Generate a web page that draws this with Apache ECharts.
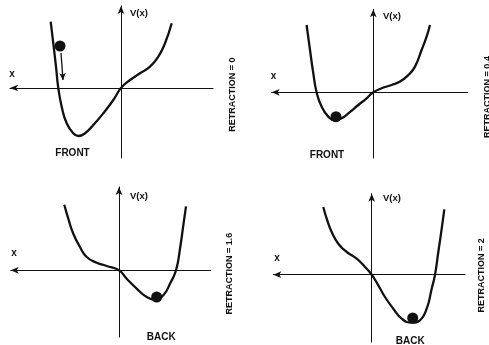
<!DOCTYPE html>
<html>
<head>
<meta charset="utf-8">
<script src="https://cdn.jsdelivr.net/npm/echarts@6/dist/echarts.min.js"></script>
<style>
html,body{margin:0;padding:0;background:#fff;}
#c{width:489px;height:345px;}
</style>
</head>
<body>
<div id="c"></div>
<script>
// Potential curves V(x) for four retraction values (arbitrary units)
const retractions = ['0', '0.4', '1.6', '2'];
const sides = ['FRONT', 'FRONT', 'BACK', 'BACK'];

const curve0 = [[-7.03,6.63],[-6.77,4.47],[-6.5,2.13],[-6.27,0],[-5.93,-1.87],[-5.43,-3.53],[-4.77,-4.53],[-4.27,-4.8],[-3.6,-4.53],[-2.77,-3.7],[-1.77,-2.53],[-0.77,-1.2],[0,0],[0.9,0.8],[1.9,1.47],[2.9,2.13],[3.73,3.13],[4.4,4.47],[5.07,6.47]];
const curve04 = [[-6.67,6.73],[-6.33,4.23],[-6.0,1.9],[-5.67,0],[-5.17,-1.43],[-4.5,-2.43],[-3.83,-2.83],[-3.17,-2.6],[-2.5,-2.1],[-1.5,-1.27],[-0.67,-0.6],[0,0],[0.83,0.4],[1.83,0.73],[2.67,1.07],[3.5,1.73],[4.17,2.57],[4.83,4.23],[5.33,5.57],[5.67,6.73]];
const curve16 = [[-5.47,6.56],[-5.07,5.16],[-4.57,3.66],[-3.9,2.33],[-3.23,1.33],[-2.23,0.76],[-1.23,0.43],[0,0],[0.77,-0.84],[1.77,-1.84],[2.77,-2.67],[3.6,-2.94],[4.43,-2.5],[5.1,-1.34],[5.7,0],[6.1,2.16],[6.43,4.5],[6.7,6.4]];
const curve2 = [[-4.84,6.77],[-4.5,5.6],[-4.0,4.27],[-3.34,3.1],[-2.5,2.27],[-1.5,1.6],[-0.67,0.77],[0,0],[0.66,-1.06],[1.33,-2.23],[2.16,-3.4],[3.0,-4.4],[4.0,-4.8],[4.83,-4.56],[5.5,-3.4],[6.0,-1.4],[6.33,0],[6.66,2.27],[7.0,4.6],[7.26,6.54]];
const curves = [curve0, curve04, curve16, curve2];

// Ball positions on each curve
const balls = [[-6.1,4.2],[-3.73,-2.44],[3.77,-2.67],[4.1,-4.33]];
// Motion arrow in first panel (start, end)
const motionArrow = [[-6.0,3.5],[-5.8,0.8]];

// Axis extents
const xMins = [-11.1,-10.16,-10.83,-9.84];
const xMaxs = [9.2,9.44,9.17,9.33];
const yMins = [-7.0,-6.57,-6.67,-6.73];
const yMaxs = [8.2,8.3,8.33,8.1];

const gridBoxes = [
  {left:10, top:6, width:203, height:152},
  {left:271.7, top:9.3, width:196, height:148.7},
  {left:10.7, top:187, width:200, height:150},
  {left:273.3, top:193.7, width:191.7, height:148.3}
];

const ink = '#111111';

const grids = [], xAxes = [], yAxes = [], series = [];
for (let i = 0; i < 4; i++) {
  grids.push(Object.assign({containLabel:false}, gridBoxes[i]));
  xAxes.push({type:'value', gridIndex:i, min:xMins[i], max:xMaxs[i],
    axisLine:{show:true,onZero:true,symbol:['arrow','none'],symbolSize:[5,8],lineStyle:{color:ink,width:1}},
    axisTick:{show:false}, axisLabel:{show:false}, splitLine:{show:false}});
  yAxes.push({type:'value', gridIndex:i, min:yMins[i], max:yMaxs[i],
    axisLine:{show:true,onZero:true,symbol:['none','arrow'],symbolSize:[5,8],lineStyle:{color:ink,width:1}},
    axisTick:{show:false}, axisLabel:{show:false}, splitLine:{show:false}});
  series.push({type:'line', xAxisIndex:i, yAxisIndex:i, data:curves[i], smooth:0.5,
    showSymbol:false, lineStyle:{color:ink,width:2.3}, silent:true, z:3});
  series.push({type:'scatter', xAxisIndex:i, yAxisIndex:i, data:[balls[i]], symbolSize:11,
    itemStyle:{color:ink, opacity:1}, silent:true, z:4});
}
series.push({type:'line', xAxisIndex:0, yAxisIndex:0, data:[], silent:true,
  markLine:{silent:true, symbol:['none','arrow'], symbolSize:[5,7], label:{show:false},
    lineStyle:{color:ink,width:1.3,type:'solid'},
    data:[[{coord:motionArrow[0]},{coord:motionArrow[1]}]]}});

const font = 'bold 10px "Liberation Sans", Arial, sans-serif';
const vFont = 'bold 9.5px "Liberation Sans", Arial, sans-serif';
const rFont = 'bold 9px "Liberation Sans", Arial, sans-serif';
const vPos = [[130,13.5],[383,16.5],[130,196],[383,198.5]];
const xPos = [[12,74.5],[273.5,76],[14,253.7],[277,258]];
const sidePos = [[72.5,153.7],[327,155.5],[161.3,337.5],[410.3,341.5]];
const rPos = [[233,94.5],[488,97],[230,273.7],[482,275.3]];
const graphics = [];
for (let i = 0; i < 4; i++) {
  graphics.push({type:'text', x:vPos[i][0], y:vPos[i][1], style:{text:'V(x)', font:vFont, fill:ink, textAlign:'left', textVerticalAlign:'middle'}});
  graphics.push({type:'text', x:xPos[i][0], y:xPos[i][1], style:{text:'x', font:font, fill:ink, textAlign:'center', textVerticalAlign:'middle'}});
  graphics.push({type:'text', x:sidePos[i][0], y:sidePos[i][1], style:{text:sides[i], font:font, fill:ink, textAlign:'center', textVerticalAlign:'middle'}});
  graphics.push({type:'text', x:rPos[i][0], y:rPos[i][1], rotation:Math.PI/2, style:{text:'RETRACTION = ' + retractions[i], font:rFont, fill:ink, textAlign:'center', textVerticalAlign:'middle'}});
}

const chart = echarts.init(document.getElementById('c'), null, {renderer:'canvas'});
chart.setOption({
  backgroundColor:'#ffffff',
  animation:false,
  grid:grids, xAxis:xAxes, yAxis:yAxes, series:series, graphic:graphics
});
</script>
</body>
</html>
